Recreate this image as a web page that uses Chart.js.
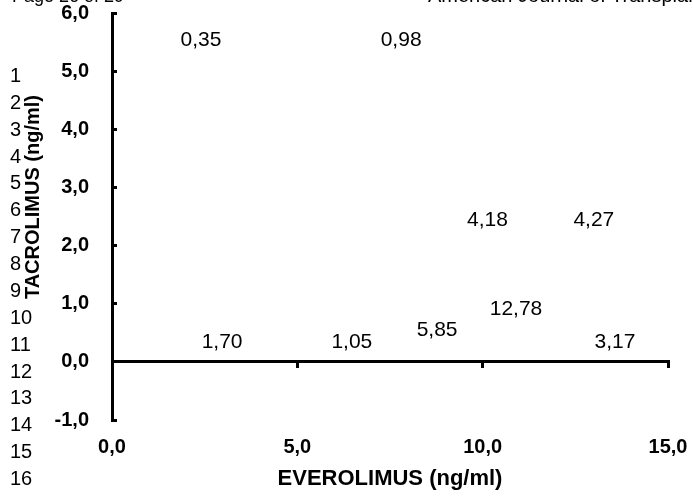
<!DOCTYPE html>
<html>
<head>
<meta charset="utf-8">
<script src="https://cdn.jsdelivr.net/npm/chart.js@4.4.0/dist/chart.umd.min.js"></script>
<style>
  body { margin: 0; background: #fff; }
  #wrap { position: relative; width: 693px; height: 497px; overflow: hidden; font-family: 'Liberation Sans', Arial, sans-serif; }
  #chart { position: absolute; left: 0; top: 0; }
  .txt { position: absolute; font-size: 20px; line-height: 20px; color: #000; white-space: nowrap; }
</style>
</head>
<body>
<div id="wrap">
  <canvas id="chart" width="693" height="497"></canvas>
  <div class="txt" style="left:12px; top:-14px; font-size:18px;">Page 26 of 29</div>
  <div class="txt" style="left:428px; top:-15px;">American Journal of Transplantation</div>
</div>
<script>
// point positions (everolimus on x, tacrolimus on y) and the value written at each
const everolimus = [2.40, 7.80, 10.13, 13.00, 10.90, 8.77, 2.97, 6.47, 13.57];
const tacrolimus = [5.53, 5.53, 2.44, 2.44, 0.91, 0.55, 0.33, 0.33, 0.33];
const pointLabels = ['0,35', '0,98', '4,18', '4,27', '12,78', '5,85', '1,70', '1,05', '3,17'];

const xTicks = [0, 5, 10, 15];
const yTicks = [-1, 0, 1, 2, 3, 4, 5, 6];

const FONT = "'Liberation Sans', Arial, sans-serif";
const fmt = v => Number(v).toFixed(1).replace('.', ',');

// page line numbers in the left margin
const wrap = document.getElementById('wrap');
for (let i = 0; i < 17; i++) {
  const d = document.createElement('div');
  d.className = 'txt';
  d.style.left = '10px';
  d.style.top = (75 + i * 26.87 - 10) + 'px';
  d.textContent = String(i + 1);
  wrap.appendChild(d);
}

const valueLabels = {
  id: 'valueLabels',
  afterDatasetsDraw(chart) {
    const ctx = chart.ctx;
    const meta = chart.getDatasetMeta(0);
    ctx.save();
    ctx.font = '21px ' + FONT;
    ctx.fillStyle = '#000';
    ctx.textAlign = 'center';
    ctx.textBaseline = 'middle';
    meta.data.forEach((pt, i) => ctx.fillText(pointLabels[i], pt.x, pt.y));
    ctx.restore();
  }
};

new Chart(document.getElementById('chart'), {
  type: 'scatter',
  data: {
    datasets: [{
      data: everolimus.map((x, i) => ({ x: x, y: tacrolimus[i] })),
      pointRadius: 0,
      pointHoverRadius: 0
    }]
  },
  options: {
    responsive: false,
    devicePixelRatio: 1,
    animation: false,
    layout: { padding: { top: 13, right: 25, left: 0, bottom: 0 } },
    plugins: { legend: { display: false }, tooltip: { enabled: false } },
    scales: {
      x: {
        type: 'linear',
        position: 'bottom',
        min: xTicks[0],
        max: xTicks[xTicks.length - 1],
        afterBuildTicks: s => { s.ticks = xTicks.map(v => ({ value: v })); },
        ticks: { padding: 15, color: '#000', font: { family: FONT, size: 20, weight: 'bold' }, callback: v => fmt(v) },
        grid: { display: false, drawTicks: false },
        border: { display: false },
        title: { display: true, text: 'EVEROLIMUS (ng/ml)', color: '#000', font: { family: FONT, size: 22, weight: 'bold' }, padding: { top: 0, bottom: 5 } },
        afterFit: s => { s.height = 77; s.paddingLeft = 0; s.paddingRight = 0; }
      },
      xLine: {
        type: 'linear',
        position: { y: 0 },
        min: xTicks[0],
        max: xTicks[xTicks.length - 1],
        afterBuildTicks: s => { s.ticks = xTicks.map(v => ({ value: v })); },
        ticks: { display: false },
        grid: { drawOnChartArea: false, drawTicks: true, tickLength: 5, lineWidth: 3, color: '#000' },
        border: { width: 3, color: '#000' }
      },
      y: {
        type: 'linear',
        position: 'left',
        min: yTicks[0],
        max: yTicks[yTicks.length - 1],
        afterBuildTicks: s => { s.ticks = yTicks.map(v => ({ value: v })); },
        ticks: { padding: 28, color: '#000', font: { family: FONT, size: 20, weight: 'bold' }, callback: v => fmt(v) },
        grid: { drawOnChartArea: false, drawTicks: true, tickLength: -5, lineWidth: 3, color: '#000' },
        border: { width: 3, color: '#000' },
        title: { display: true, text: '       TACROLIMUS (ng/ml)', color: '#000', font: { family: FONT, size: 20, weight: 'bold' }, padding: { top: 21, bottom: 0 } },
        afterFit: s => { s.width = 112; s.paddingTop = 0; s.paddingBottom = 0; }
      }
    }
  },
  plugins: [valueLabels]
});
</script>
</body>
</html>
